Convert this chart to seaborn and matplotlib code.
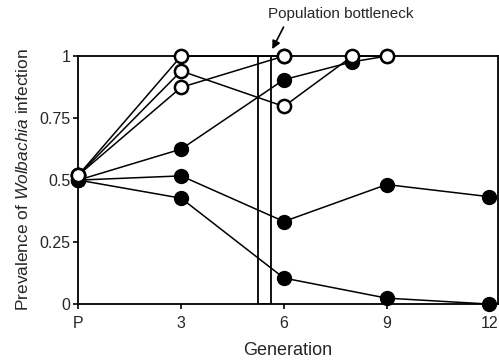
import matplotlib
matplotlib.use("Agg")
import matplotlib.pyplot as plt
import seaborn as sns
import pandas as pd
from matplotlib.patches import Rectangle

# ---- data ----
filled_gens = [
    [0, 3, 6, 8, 9],
    [0, 3, 6, 9, 12],
    [0, 3, 6, 9, 12],
]
filled_vals = [
    [0.50, 0.625, 0.905, 0.977, 1.0],
    [0.50, 0.517, 0.333, 0.482, 0.433],
    [0.50, 0.427, 0.105, 0.024, 0.0],
]
open_gens = [
    [0, 3, 6],
    [0, 3, 6, 8, 9],
    [0, 3, 6],
]
open_vals = [
    [0.52, 1.0, 1.0],
    [0.52, 0.94, 0.797, 1.0, 1.0],
    [0.52, 0.874, 1.0],
]
xtick_pos = [0, 3, 6, 9, 12]
xtick_labels = ["P", "3", "6", "9", "12"]
ytick_pos = [0, 0.25, 0.5, 0.75, 1]
ytick_labels = ["0", "0.25", "0.5", "0.75", "1"]
bottleneck = (5.25, 5.63)

sns.set_style("white")
plt.rcParams['font.family'] = ['Liberation Sans', 'DejaVu Sans']
plt.rcParams['mathtext.fontset'] = 'custom'
plt.rcParams['mathtext.rm'] = 'Liberation Sans'
plt.rcParams['mathtext.it'] = 'Liberation Sans:italic'

fig = plt.figure(figsize=(4.99, 3.62), dpi=100)
ax = fig.add_axes([0.157, 0.160, 0.841, 0.685])

for g, v in zip(filled_gens, filled_vals):
    df = pd.DataFrame({"gen": g, "val": v})
    sns.lineplot(data=df, x="gen", y="val", ax=ax, color="black", lw=1.1,
                 marker="o", markersize=10, markerfacecolor="black",
                 markeredgecolor="black", markeredgewidth=1, sort=False)
for g, v in zip(open_gens, open_vals):
    df = pd.DataFrame({"gen": g, "val": v})
    sns.lineplot(data=df, x="gen", y="val", ax=ax, color="black", lw=1.1,
                 marker="o", markersize=9.5, markerfacecolor="white",
                 markeredgecolor="black", markeredgewidth=1.8, sort=False)

for ln in ax.lines:
    ln.set_clip_on(False)
    ln.set_zorder(5)

ax.add_patch(Rectangle((bottleneck[0], 0), bottleneck[1] - bottleneck[0], 1,
                       facecolor="none", edgecolor="black", lw=1.3, zorder=3))

ax.set_xlim(0, 12.25)
ax.set_ylim(0, 1)
ax.set_xticks(xtick_pos)
ax.set_xticklabels(xtick_labels, fontsize=11.5)
ax.set_yticks(ytick_pos)
ax.set_yticklabels(ytick_labels, fontsize=11.5)
ax.tick_params(axis="both", direction="out", length=3.5, width=1.2,
               color="black", left=True, bottom=True)
ax.tick_params(axis="x", pad=5)
ax.tick_params(axis="y", pad=2)
for s in ax.spines.values():
    s.set_visible(True)
    s.set_color("black")
    s.set_linewidth(1.3)

ax.set_xlabel("Generation", fontsize=13, labelpad=8)
ax.set_ylabel("Prevalence of $\\it{Wolbachia}$ infection", fontsize=12.5, labelpad=6)

ax.text(5.55, 1.17, "Population bottleneck", fontsize=11, ha="left", va="center",
        clip_on=False)
ax.annotate("", xy=(5.66, 1.028), xytext=(5.99, 1.117),
            annotation_clip=False,
            arrowprops=dict(arrowstyle="-|>", color="black", lw=1.2,
                            mutation_scale=12, shrinkA=0, shrinkB=0))

fig.savefig("out.png", dpi=100)
